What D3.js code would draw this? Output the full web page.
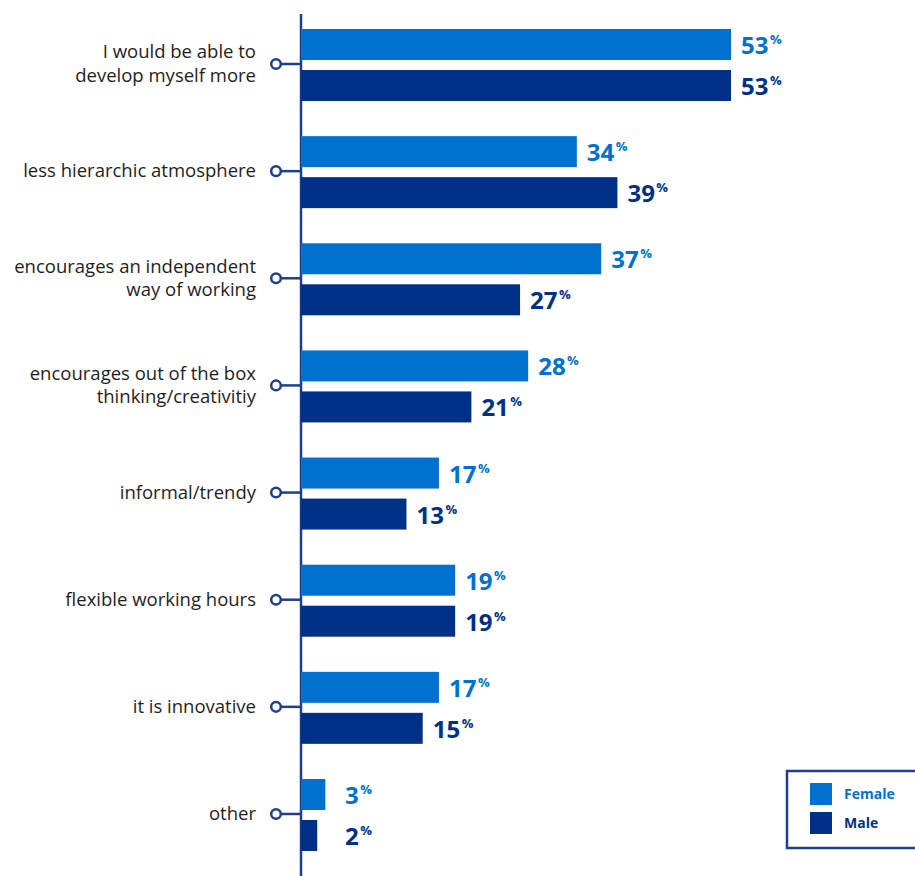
<!DOCTYPE html>
<html>
<head>
<meta charset="utf-8">
<script src="https://cdn.jsdelivr.net/npm/d3@7"></script>
<style>
  html, body { margin: 0; padding: 0; background: #fff; }
  svg { display: block; }
</style>
</head>
<body>
<svg id="chart" width="915" height="876"></svg>
<script>
const categories = [
  ["I would be able to", "develop myself more"],
  ["less hierarchic atmosphere"],
  ["encourages an independent", "way of working"],
  ["encourages out of the box", "thinking/creativitiy"],
  ["informal/trendy"],
  ["flexible working hours"],
  ["it is innovative"],
  ["other"]
];
const female = [53, 34, 37, 28, 17, 19, 17, 3];
const male   = [53, 39, 27, 21, 13, 19, 15, 2];
const seriesNames = ["Female", "Male"];

const colors = { Female: "#0071CE", Male: "#003087" };
const axisColor = "#1d3f8e";

const svg = d3.select("#chart");
const axisX = 301;

const x = d3.scaleLinear().domain([0, 53]).range([axisX, 731]);
const y = d3.scaleBand()
  .domain(d3.range(categories.length))
  .range([29, 29 + 107.14 * categories.length])
  .paddingInner(0)
  .paddingOuter(0);

const barH = 31, gap = 41;

// axis line
svg.append("line")
  .attr("x1", axisX).attr("x2", axisX)
  .attr("y1", 14).attr("y2", 876)
  .attr("stroke", axisColor).attr("stroke-width", 2.5);

const g = svg.selectAll("g.cat").data(categories).enter().append("g")
  .attr("class", "cat")
  .attr("transform", (d, i) => `translate(0,${y(i)})`);

const rows = categories.map((c, i) => [
  { s: "Female", v: female[i], off: 0 },
  { s: "Male", v: male[i], off: gap }
]);

g.each(function(d, i) {
  const gg = d3.select(this);
  rows[i].forEach(r => {
    gg.append("rect")
      .attr("x", axisX)
      .attr("y", r.off)
      .attr("width", x(r.v) - axisX)
      .attr("height", barH)
      .attr("fill", colors[r.s]);
    const lx = Math.max(x(r.v) + 10, axisX + 44);
    const t = gg.append("text")
      .attr("x", lx)
      .attr("y", r.off + 25)
      .attr("fill", colors[r.s])
      .attr("font-family", "'Open Sans', sans-serif")
      .attr("font-weight", 700)
      .attr("font-size", 24);
    t.append("tspan").text(r.v);
    t.append("tspan").text("%")
      .attr("font-size", 13)
      .attr("dx", 1.5)
      .attr("dy", -10);
  });

  // connector + circle
  const cy = 35;
  gg.append("line")
    .attr("x1", 281).attr("x2", axisX)
    .attr("y1", cy).attr("y2", cy)
    .attr("stroke", axisColor).attr("stroke-width", 2.5);
  gg.append("circle")
    .attr("cx", 276).attr("cy", cy).attr("r", 4.8)
    .attr("fill", "#fff")
    .attr("stroke", axisColor).attr("stroke-width", 2.5);

  // category label
  const lh = 23.5;
  const n = d.length;
  const txt = gg.append("text")
    .attr("text-anchor", "end")
    .attr("fill", "#1e1e1e")
    .attr("font-family", "'Open Sans', sans-serif")
    .attr("font-size", 18.5);
  d.forEach((line, k) => {
    txt.append("tspan")
      .attr("x", 256)
      .attr("y", cy + 6 + (k - (n - 1) / 2) * lh)
      .text(line);
  });
});

// legend
const lg = svg.append("g");
lg.append("rect")
  .attr("x", 787).attr("y", 771)
  .attr("width", 140).attr("height", 77)
  .attr("fill", "#fff")
  .attr("stroke", axisColor).attr("stroke-width", 2.5);
seriesNames.forEach((s, i) => {
  lg.append("rect")
    .attr("x", 810).attr("y", 783 + i * 29)
    .attr("width", 22).attr("height", 22)
    .attr("fill", colors[s]);
  lg.append("text")
    .attr("x", 844).attr("y", 799 + i * 29)
    .attr("fill", colors[s])
    .attr("font-family", "'Open Sans', sans-serif")
    .attr("font-weight", 700)
    .attr("font-size", 14)
    .text(s);
});
</script>
</body>
</html>
